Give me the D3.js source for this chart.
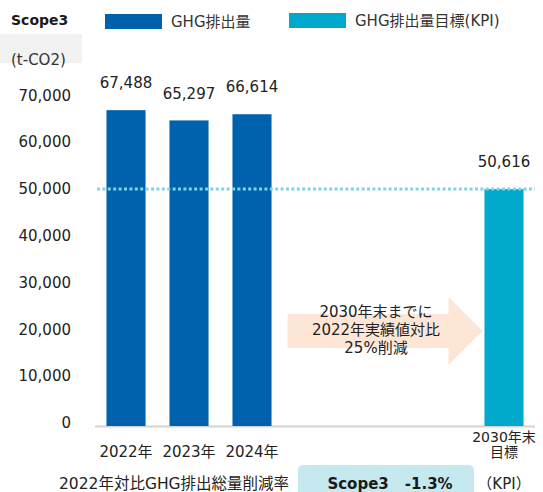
<!DOCTYPE html>
<html>
<head>
<meta charset="utf-8">
<script src="https://cdn.jsdelivr.net/npm/d3@7/dist/d3.min.js"></script>
<style>
  html, body { margin: 0; padding: 0; background: #fff; }
  svg { display: block; font-family: "DejaVu Sans", "Noto Sans CJK JP", sans-serif; }
</style>
</head>
<body>
<svg id="chart" width="543" height="492"></svg>
<script>
// Scope3 GHG emissions (t-CO2)
const categories = ["2022年", "2023年", "2024年"];
const emissions = [67488, 65297, 66614];
const targetCategory = ["2030年末", "目標"];
const targetValue = 50616;
const yTicks = [0, 10000, 20000, 30000, 40000, 50000, 60000, 70000];
const arrowLines = ["2030年末までに", "2022年実績値対比", "25%削減"];
const reductionLabel = "2022年対比GHG排出総量削減率";
const reductionScope = "Scope3";
const reductionRate = "-1.3%";

const svg = d3.select("#chart");
const BLUE = "#0062ad", CYAN = "#00a9cb";

// seven slots: three actual years, empty gap, then the 2030 target
const slots = [...categories, "_g1", "_g2", "_g3", "target"];
const x = d3.scaleBand().domain(slots).range([94.5, 535.5]).paddingInner(0.38).paddingOuter(0.19);
const y = d3.scaleLinear().domain([0, 70000]).range([426, 98.4]);

// header: title, unit box, legend
svg.append("rect").attr("x", 0).attr("y", 34).attr("width", 82).attr("height", 29).attr("fill", "#f2f2f2");
svg.append("text").attr("x", 11).attr("y", 25).attr("font-size", 14).attr("font-weight", "bold")
  .attr("fill", "#1a1a1a").text("Scope3");
svg.append("text").attr("x", 11).attr("y", 65).attr("font-size", 15).attr("fill", "#333").text("(t-CO2)");

const legend = [
  { label: "GHG排出量", color: BLUE, x: 105, y: 14 },
  { label: "GHG排出量目標(KPI)", color: CYAN, x: 289, y: 13 }
];
legend.forEach(l => {
  svg.append("rect").attr("x", l.x).attr("y", l.y).attr("width", 57).attr("height", 15).attr("fill", l.color);
  svg.append("text").attr("x", l.x + 66).attr("y", l.y + 8).attr("dy", "0.35em")
    .attr("font-size", 15).attr("fill", "#333").text(l.label);
});

// y axis labels
svg.append("g").selectAll("text").data(yTicks).join("text")
  .attr("x", 71).attr("y", d => y(d) - 3).attr("dy", "0.35em")
  .attr("text-anchor", "end").attr("font-size", 15).attr("fill", "#222")
  .text(d => d3.format(",")(d));

// baseline
svg.append("line").attr("x1", 95).attr("x2", 535).attr("y1", 426.5).attr("y2", 426.5)
  .attr("stroke", "#d4d4d4").attr("stroke-width", 2);

// arrow annotation between actual bars and target
const ax0 = x("2024年") + x.bandwidth() + 16, axTip = x("target") - 2;
const ay = 331, bodyH = 17, headH = 34, headW = 34;
svg.append("path")
  .attr("d", `M${ax0},${ay - bodyH} L${axTip - headW},${ay - bodyH} L${axTip - headW},${ay - headH}
              L${axTip},${ay} L${axTip - headW},${ay + headH} L${axTip - headW},${ay + bodyH} L${ax0},${ay + bodyH} Z`)
  .attr("fill", "#fde6d6");
svg.append("g").selectAll("text").data(arrowLines).join("text")
  .attr("x", 376).attr("y", (d, i) => 312 + i * 18).attr("dy", "0.35em")
  .attr("text-anchor", "middle").attr("font-size", 15).attr("fill", "#222").text(d => d);

// actual emission bars
const bars = categories.map((c, i) => ({ cat: c, value: emissions[i] }));
svg.append("g").selectAll("rect").data(bars).join("rect")
  .attr("x", d => x(d.cat)).attr("width", x.bandwidth())
  .attr("y", d => y(d.value)).attr("height", d => y(0) - y(d.value))
  .attr("fill", BLUE);

// target bar
svg.append("rect").attr("x", x("target")).attr("width", x.bandwidth())
  .attr("y", y(targetValue)).attr("height", y(0) - y(targetValue)).attr("fill", CYAN);

// dotted target level line
svg.append("line").attr("x1", 97).attr("x2", 535).attr("y1", y(targetValue)).attr("y2", y(targetValue))
  .attr("stroke", "#7fd5e2").attr("stroke-width", 3).attr("stroke-dasharray", "3,2.4");

// value labels
const vals = [...bars, { cat: "target", value: targetValue }];
svg.append("g").selectAll("text").data(vals).join("text")
  .attr("x", d => x(d.cat) + x.bandwidth() / 2).attr("y", d => y(d.value) - 27).attr("dy", "0.35em")
  .attr("text-anchor", "middle").attr("font-size", 15).attr("fill", "#222")
  .text(d => d3.format(",")(d.value));

// category labels
svg.append("g").selectAll("text").data(categories).join("text")
  .attr("x", d => x(d) + x.bandwidth() / 2).attr("y", 452).attr("dy", "0.35em")
  .attr("text-anchor", "middle").attr("font-size", 15).attr("fill", "#222").text(d => d);
svg.append("g").selectAll("text").data(targetCategory).join("text")
  .attr("x", x("target") + x.bandwidth() / 2).attr("y", (d, i) => 437.5 + i * 14.5).attr("dy", "0.35em")
  .attr("text-anchor", "middle").attr("font-size", 14).attr("fill", "#222").text(d => d);

// reduction rate row
svg.append("text").attr("x", 174).attr("y", 484).attr("dy", "0.35em").attr("text-anchor", "middle")
  .attr("font-size", 15.5).attr("fill", "#222").text(reductionLabel);
svg.append("rect").attr("x", 298).attr("y", 465).attr("width", 176).attr("height", 40).attr("rx", 5)
  .attr("fill", "#c6e9f0");
const rt = svg.append("text").attr("x", 390).attr("y", 484).attr("dy", "0.35em").attr("text-anchor", "middle")
  .attr("font-size", 15).attr("font-weight", "bold").attr("fill", "#1a1a1a");
rt.append("tspan").text(reductionScope);
rt.append("tspan").attr("dx", 16).text(reductionRate);
svg.append("text").attr("x", 504).attr("y", 484).attr("dy", "0.35em").attr("text-anchor", "middle")
  .attr("font-size", 15).attr("fill", "#222").text("（KPI）");
</script>
</body>
</html>
